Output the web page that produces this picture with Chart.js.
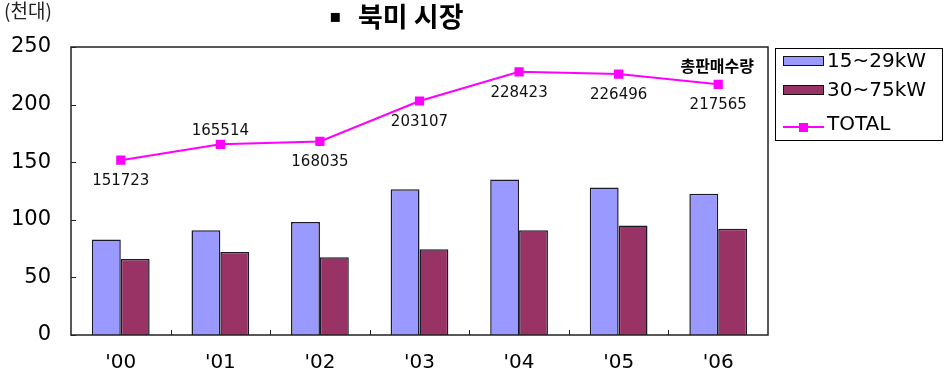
<!DOCTYPE html>
<html>
<head>
<meta charset="utf-8">
<script src="https://cdn.jsdelivr.net/npm/chart.js@4/dist/chart.umd.min.js"></script>
<style>
  html, body { margin: 0; padding: 0; background: #fff; }
  #wrap { width: 944px; height: 379px; position: relative; }
</style>
</head>
<body>
<div id="wrap"><canvas id="c" width="944" height="379"></canvas></div>
<script>
// ---- data ----
const categories = ["'00", "'01", "'02", "'03", "'04", "'05", "'06"];
const small = [83, 91, 98, 126.5, 135, 128, 122.7];      // 15~29kW (천대)
const large = [66, 72, 67.5, 74.4, 91, 95, 92.3];        // 30~75kW (천대)
const totals = [151723, 165514, 168035, 203107, 228423, 226496, 217565]; // TOTAL (대)
const yTicks = [0, 50, 100, 150, 200, 250];
const seriesNames = ['15~29kW', '30~75kW', 'TOTAL'];
const titleText = '북미 시장';
const unitText = '(천대)';
const totalNote = '총판매수량';

const BLUE = '#9999FF', MAROON = '#993366', MAGENTA = '#FF00FF';
const LATIN = "'DejaVu Sans', 'Liberation Sans', sans-serif";
const KR = "'Noto Sans CJK KR', 'Noto Sans', sans-serif";

const labelAbove = [false, true, false, false, false, false, false];

const overlay = {
  id: 'overlay',
  afterDraw(chart) {
    const { ctx, chartArea: a, scales: { x, y } } = chart;
    ctx.save();
    // frame
    ctx.strokeStyle = '#222';
    ctx.lineWidth = 1.5;
    ctx.strokeRect(a.left, a.top, a.right - a.left, a.bottom - a.top);
    // inner y ticks
    ctx.lineWidth = 1;
    ctx.beginPath();
    y.ticks.forEach((t, i) => {
      const py = Math.round(y.getPixelForTick(i)) + 0.5;
      ctx.moveTo(a.left, py); ctx.lineTo(a.left + 5, py);
    });
    // x ticks at category boundaries
    const half = (x.getPixelForValue(1) - x.getPixelForValue(0)) / 2;
    for (let i = 1; i < categories.length; i++) {
      const px = Math.round(x.getPixelForValue(i) - half) + 0.5;
      ctx.moveTo(px, a.bottom); ctx.lineTo(px, a.bottom - 5);
    }
    ctx.stroke();

    // data labels for TOTAL
    const meta = chart.getDatasetMeta(2);
    ctx.fillStyle = '#111';
    ctx.font = '15px ' + LATIN;
    ctx.textAlign = 'center';
    ctx.textBaseline = 'middle';
    meta.data.forEach((pt, i) => {
      const off = labelAbove[i] ? -13 : 21;
      ctx.fillText(String(totals[i]), pt.x, pt.y + off);
    });
    const last = meta.data[meta.data.length - 1];
    ctx.font = 'bold 16px ' + KR;
    ctx.fillStyle = '#000';
    ctx.fillText(totalNote, last.x - 1, last.y - 18);

    // title
    ctx.textAlign = 'left';
    ctx.font = 'bold 27px ' + KR;
    ctx.fillText(titleText, 358, 17);
    ctx.font = '18px ' + LATIN;
    ctx.fillText('▪', 329, 17);
    // unit
    ctx.font = '19px ' + KR;
    ctx.fillStyle = '#222';
    ctx.fillText(unitText, 4, 11);

    // legend
    ctx.strokeStyle = '#000';
    ctx.lineWidth = 1;
    ctx.strokeRect(775.5, 48.5, 167, 92);
    const rows = [61, 90, 126];
    [BLUE, MAROON].forEach((c, i) => {
      ctx.fillStyle = c;
      ctx.fillRect(783, rows[i] - 4.5, 41, 9);
      ctx.strokeStyle = '#111';
      ctx.strokeRect(783.5, rows[i] - 4.5, 40, 9);
    });
    ctx.strokeStyle = MAGENTA;
    ctx.lineWidth = 2;
    ctx.beginPath(); ctx.moveTo(783, rows[2] + 1); ctx.lineTo(824, rows[2] + 1); ctx.stroke();
    ctx.fillStyle = MAGENTA;
    ctx.fillRect(799, rows[2] - 3, 9, 9);
    ctx.fillStyle = '#000';
    ctx.font = '20px ' + LATIN;
    seriesNames.forEach((n, i) => ctx.fillText(n, 827, rows[i] + (i === 2 ? -1 : 1)));
    ctx.restore();
  }
};

new Chart(document.getElementById('c'), {
  type: 'bar',
  data: {
    labels: categories,
    datasets: [
      { label: seriesNames[0], data: small, backgroundColor: BLUE, borderColor: '#1a1a2a', borderWidth: 1.5,
        categoryPercentage: 0.58, barPercentage: 1.0, order: 2 },
      { label: seriesNames[1], data: large, backgroundColor: MAROON, borderColor: '#1a1a2a', borderWidth: 1.5,
        categoryPercentage: 0.58, barPercentage: 1.0, order: 2 },
      { type: 'line', label: seriesNames[2], data: totals.map(v => v / 1000),
        borderColor: MAGENTA, backgroundColor: MAGENTA, borderWidth: 2,
        pointStyle: 'rect', pointRadius: 6.5, pointBorderWidth: 0, tension: 0, order: 1 }
    ]
  },
  options: {
    responsive: false,
    animation: false,
    devicePixelRatio: 1,
    layout: { padding: { left: 0, top: 47, right: 176, bottom: 0 } },
    plugins: { legend: { display: false }, title: { display: false }, tooltip: { enabled: false } },
    scales: {
      x: {
        grid: { display: false, drawTicks: false },
        border: { display: false },
        ticks: { color: '#000', font: { family: LATIN, size: 20 }, padding: 16 },
        afterFit(s) { s.height = 44; }
      },
      y: {
        min: 0, max: 250,
        afterBuildTicks(s) { s.ticks = yTicks.map(v => ({ value: v })); },
        grid: { display: false, drawTicks: false },
        border: { display: false },
        ticks: { color: '#000', font: { family: LATIN, size: 21 }, padding: 20 },
        afterFit(s) { s.width = 71; }
      }
    }
  },
  plugins: [overlay]
});
</script>
</body>
</html>
